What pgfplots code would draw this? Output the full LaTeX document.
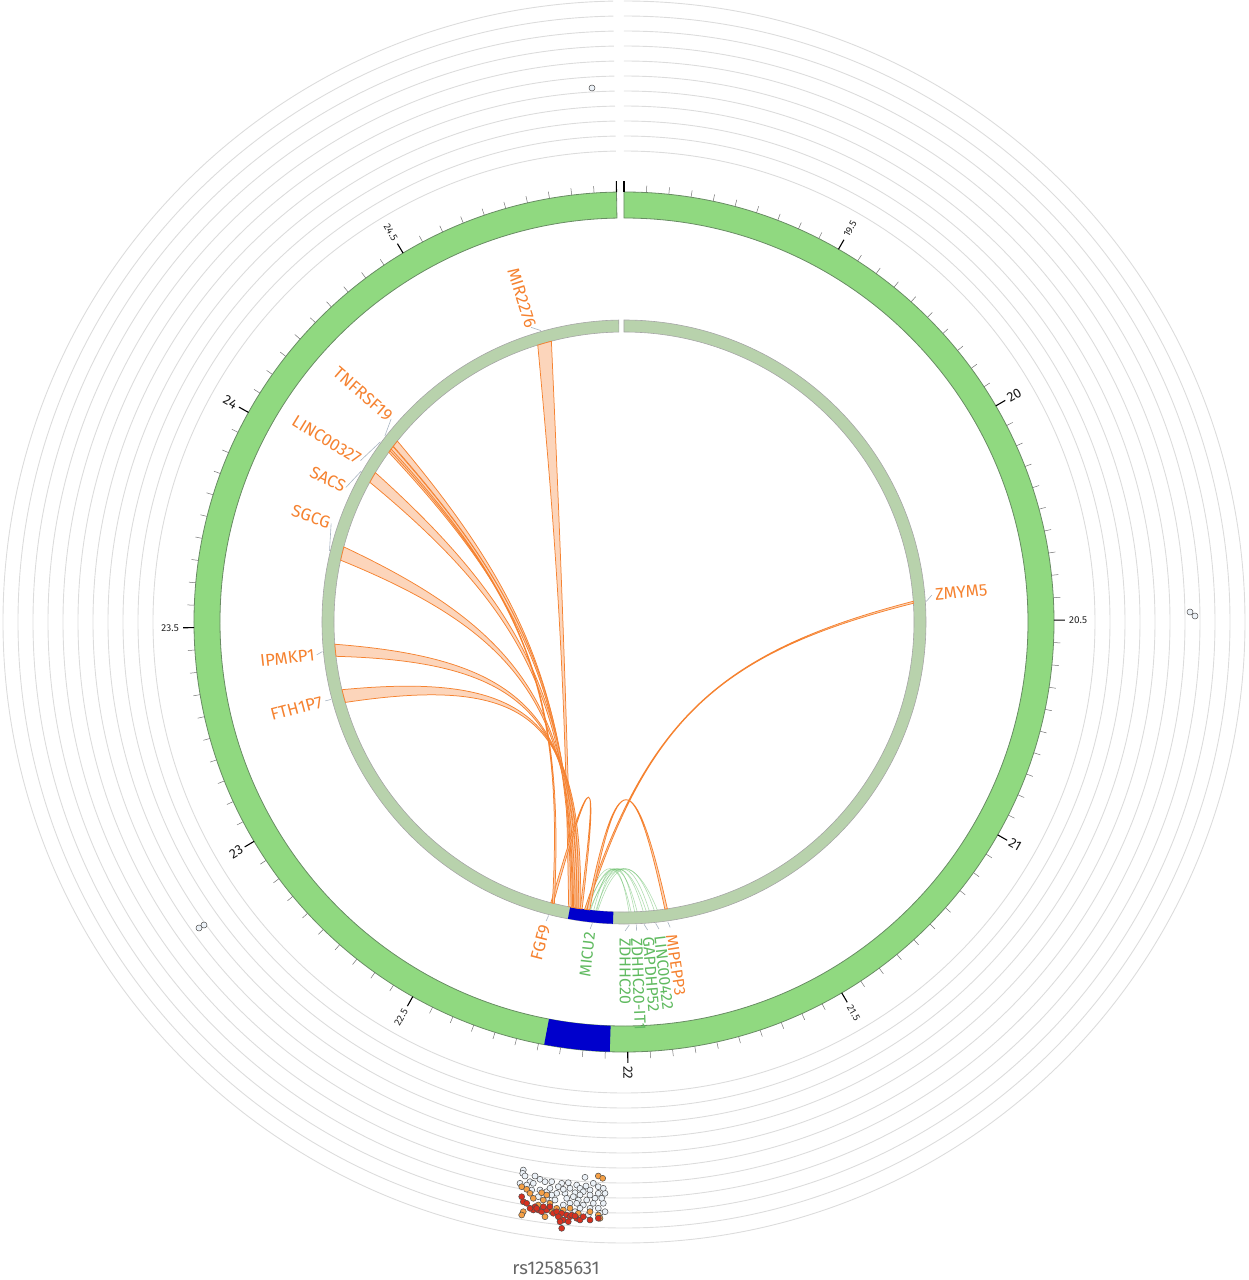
\documentclass[border=0pt]{standalone}
\usepackage{pgfplots}
\pgfplotsset{compat=1.18}
\usepackage{fontspec}
\setmainfont{Fira Sans}
\usetikzlibrary{calc}

\definecolor{ringgreen}{RGB}{144,217,128}
\definecolor{ringedge}{RGB}{105,140,100}
\definecolor{innergreen}{RGB}{184,210,172}
\definecolor{hiblue}{RGB}{0,0,204}
\definecolor{gorange}{RGB}{245,130,48}
\definecolor{rfill}{RGB}{251,203,170}
\definecolor{ggreen}{RGB}{96,186,96}
\definecolor{gridgray}{RGB}{220,220,220}
\definecolor{conn}{RGB}{170,182,195}
\definecolor{ptred}{RGB}{215,48,31}
\definecolor{ptorange}{RGB}{245,160,70}
\definecolor{ptwhite}{RGB}{236,242,248}

% annulus sector: style, theta1, theta2 (clockwise from top), r_in, r_out
\newcommand{\sector}[5]{\path[#1] ({90-#2}:#5pt) arc[start angle={90-#2}, end angle={90-#3}, radius=#5pt] -- ({90-#3}:#4pt) arc[start angle={90-#3}, end angle={90-#2}, radius=#4pt] -- cycle;}

% radial label: theta, radius, style, text
\newcommand{\rlabel}[4]{%
  \pgfmathsetmacro\rlphi{90-(#1)}%
  \ifdim #1pt>180pt
    \pgfmathsetmacro\rlrot{\rlphi+180}%
    \node[#3, rotate=\rlrot, anchor=east, inner sep=0pt] at (\rlphi:#2pt) {#4};%
  \else
    \node[#3, rotate=\rlphi, anchor=west, inner sep=0pt] at (\rlphi:#2pt) {#4};%
  \fi}

% ribbon: style, g1, g2, p1, p2, control radius
\newcommand{\ribbon}[6]{%
  \pgfmathsetmacro\rbm{90-(#2+#3+#4+#5)/4}%
  \path[#1] ({90-#2}:290pt) .. controls ($({90-#2}:290pt)!0.78!(\rbm:#6pt)$) and ($({90-#5}:290pt)!0.78!(\rbm:#6pt)$) .. ({90-#5}:290pt)
    arc[start angle={90-#5}, end angle={90-#4}, radius=290pt]
    .. controls ($({90-#4}:290pt)!0.78!(\rbm:#6pt)$) and ($({90-#3}:290pt)!0.78!(\rbm:#6pt)$) .. ({90-#3}:290pt)
    arc[start angle={90-#3}, end angle={90-#2}, radius=290pt] -- cycle;}

% single link: style, a, b, control radius
\newcommand{\glink}[4]{%
  \pgfmathsetmacro\lkm{90-(#2+#3)/2}%
  \draw[#1] ({90-#2}:290pt) .. controls ($({90-#2}:290pt)!0.6667!(\lkm:#4pt)$) and ($({90-#3}:290pt)!0.6667!(\lkm:#4pt)$) .. ({90-#3}:290pt);}

\tikzset{
  gl/.style={text=gorange, font=\fontsize{17}{19}\selectfont},
  glc/.style={text=gorange, font=\fontsize{16}{18}\selectfont},
  glg/.style={text=ggreen, font=\fontsize{16}{18}\selectfont},
  rib/.style={fill=rfill, fill opacity=0.8, draw=gorange, line width=0.75pt, draw opacity=1},
}

\begin{document}
\begin{tikzpicture}
\path (-624pt,-658pt) rectangle (624pt,622pt);

% background track circles
\foreach \r in {471,486,...,621} {\draw[gridgray, line width=0.9pt] (90:\r pt) arc[start angle=90, end angle=-269, radius=\r pt];}

% outer ideogram
\sector{fill=ringgreen, draw=ringedge, line width=0.8pt}{0}{359}{404}{430}
\sector{fill=hiblue}{181.9}{190.7}{404}{430}

% ticks
\foreach \i in {0,...,120} {
  \pgfmathsetmacro\th{90-\i*2.9916667}
  \pgfmathtruncatemacro\m{mod(\i,10)}
  \ifnum\m=0 \draw[black, line width=1.1pt] (\th:430pt) -- (\th:441pt);
  \else \draw[black!55, line width=0.5pt] (\th:430pt) -- (\th:437pt); \fi
}
\foreach \v/\i in {19.5/10,20.5/30,21.5/50,22.5/70,23.5/90,24.5/110} {
  \pgfmathsetmacro\tth{\i*2.9916667}
  \rlabel{\tth}{445}{font=\fontsize{10}{11}\selectfont, text=black!85}{\v}
}
\foreach \v/\i in {20/20,21/40,22/60,23/80,24/100} {
  \pgfmathsetmacro\tth{\i*2.9916667}
  \rlabel{\tth}{444}{font=\fontsize{13.5}{15}\selectfont, text=black!90}{\v}
}

% inner ideogram
\sector{fill=innergreen, draw=black!35, line width=0.6pt}{0}{359}{290}{302}
\sector{fill=hiblue}{182.1}{190.7}{290}{302}

% scatter track
\begin{axis}[at={(-624pt,-658pt)}, anchor=south west, x=1pt, y=1pt,
  xmin=-624, xmax=624, ymin=-658, ymax=622, hide axis, clip=false]
\addplot[only marks, mark=*, mark size=3pt, mark options={fill=ptwhite, draw=black!70, line width=0.5pt}] coordinates {
(-100.7,-548) (-101.3,-551.3) (-99,-554) (-89,-554) (-84,-557.3) (-94,-559.7) (-104,-561.3)
(-97.3,-563) (-90.7,-561.3) (-79,-559.7) (-72.3,-559.7) (-62.3,-561.3) (-55.7,-560.7) (-47.3,-563)
(-39,-555.3) (-54,-566.3) (-44,-566.3) (-30.7,-561.3) (-25.7,-564.7) (-34,-568) (-40.7,-569.7)
(-49,-570.7) (-59,-571.3) (-67.3,-571.3) (-77.3,-569.7) (-84,-568) (-85.7,-574.7) (-77.3,-576.3)
(-69,-578) (-57.3,-576.3) (-50.7,-574.7) (-44,-573) (-34,-573) (-25.7,-571.3) (-19,-571.3)
(-29,-576.3) (-37.3,-578) (-45.7,-578) (-54,-581.3) (-60.7,-583) (-40.7,-583) (-30.7,-581.3)
(-20.7,-581.3) (-19,-589.7) (-25.7,-586.3) (-34,-586.3) (-44,-586.3) (-49,-589.7) (-35.7,-593)
(-24,-591.3) (-65.7,-564.7) (-74,-566.3) (-20.7,-566.3) (-38,-564) (-60.7,-567.3) (-92.3,-568)
(-47.3,-581.3) (-72.3,-573) (-22.3,-576.3)
(-32,534) (566,10) (571,6) (-425,-306) (-420,-303)
};
\addplot[only marks, mark=*, mark size=3pt, mark options={fill=ptorange, draw=black!70, line width=0.5pt}] coordinates {
(-25.7,-554) (-21.3,-556.3) (-102.3,-564.7) (-97.3,-567.3) (-94,-571.3) (-82.3,-570.7) (-80.7,-578)
(-74,-581.3) (-85.7,-583) (-100.7,-589.7) (-102.3,-593) (-79,-594.7) (-75.7,-586.3) (-67.3,-586.3)
(-60.7,-588) (-54,-586.3) (-45.7,-591.3) (-34,-589.7) (-25.7,-593) (-24,-596.3) (-64,-596.3)
(-72.3,-589.7) (-90.7,-576.3) (-77.3,-573)
};
\addplot[only marks, mark=*, mark size=3pt, mark options={fill=ptred, draw=black!70, line width=0.5pt}] coordinates {
(-102.3,-574.7) (-100.7,-579.7) (-97.3,-581.3) (-89,-584.7) (-85.7,-588) (-82.3,-589.7) (-77.3,-588)
(-70.7,-591.3) (-67.3,-589.7) (-62.3,-591.3) (-57.3,-593) (-54,-594.7) (-60.7,-598) (-55.7,-599.7)
(-62.3,-606.3) (-47.3,-596.3) (-44,-598) (-40.7,-594.7) (-34,-598) (-25.7,-596.3) (-52.3,-593)
(-65.7,-594.7) (-80.7,-584.7) (-74,-584.7) (-90.7,-588) (-94,-586.3) (-64,-599.7) (-49,-594)
(-87.3,-586.3)
};
\end{axis}

% green links
\foreach \a/\b in {187.8/178.6, 187.2/177.4, 186.6/176.2, 186.0/179.0, 185.6/175.0, 185.2/174.0, 186.8/173.4, 187.5/175.6, 185.4/177.9} {
  \glink{ggreen, draw opacity=0.5, line width=0.6pt}{\a}{\b}{205}
}

% orange ribbons
\ribbon{rib}{342.7}{345.5}{190.4}{191.0}{60}
\ribbon{rib}{307.3}{308.6}{190.1}{190.5}{60}
\ribbon{rib}{305.8}{307.2}{189.8}{190.2}{60}
\ribbon{rib}{298.8}{301.0}{189.5}{190.0}{60}
\ribbon{rib}{282.3}{285.0}{189.2}{189.7}{60}
\ribbon{rib}{263.2}{265.6}{188.9}{189.4}{60}
\ribbon{rib}{253.9}{256.5}{188.6}{189.1}{60}
\ribbon{rib}{85.9}{86.3}{187.4}{187.8}{60}
\ribbon{rib}{171.4}{171.9}{186.8}{187.3}{100}
\ribbon{rib}{194.1}{194.6}{188.3}{188.7}{100}
\ribbon{rib}{193.9}{194.3}{306.2}{306.6}{60}

% label connectors
\foreach \g/\l in {344.1/342.5, 307.9/311.1, 306.5/301.5, 299.9/295.8, 283.6/288.6, 264.4/263.9, 255.2/255.2, 86.1/85.0, 194.4/194.6, 186.0/186.3, 171.7/171.4, 174.0/173.5, 176.2/175.6, 177.6/177.7, 179.0/179.8} {
  \draw[conn, line width=0.6pt] ({90-\g}:303pt) -- ({90-\l}:309pt);
}

% gene labels
\rlabel{342.5}{309}{gl}{MIR2276}
\rlabel{311.1}{310}{gl}{TNFRSF19}
\rlabel{301.5}{310}{gl}{LINC00327}
\rlabel{295.8}{310}{gl}{SACS}
\rlabel{288.6}{310}{gl}{SGCG}
\rlabel{263.9}{311}{gl}{IPMKP1}
\rlabel{255.2}{312}{gl}{FTH1P7}
\rlabel{85.0}{312}{gl}{ZMYM5}
\rlabel{194.6}{313}{gl}{FGF9}
\rlabel{186.3}{312}{glg}{MICU2}
\rlabel{171.4}{316}{glc}{MIPEPP3}
\rlabel{173.5}{316}{glg}{LINC00422}
\rlabel{175.6}{316}{glg}{GAPDHP52}
\rlabel{177.7}{316}{glg}{ZDHHC20-IT1}
\rlabel{179.8}{316}{glg}{ZDHHC20}

% track label
\node[text=black!60, font=\fontsize{18.5}{21}\selectfont] at (-96:650pt) {rs12585631};
\end{tikzpicture}
\end{document}
